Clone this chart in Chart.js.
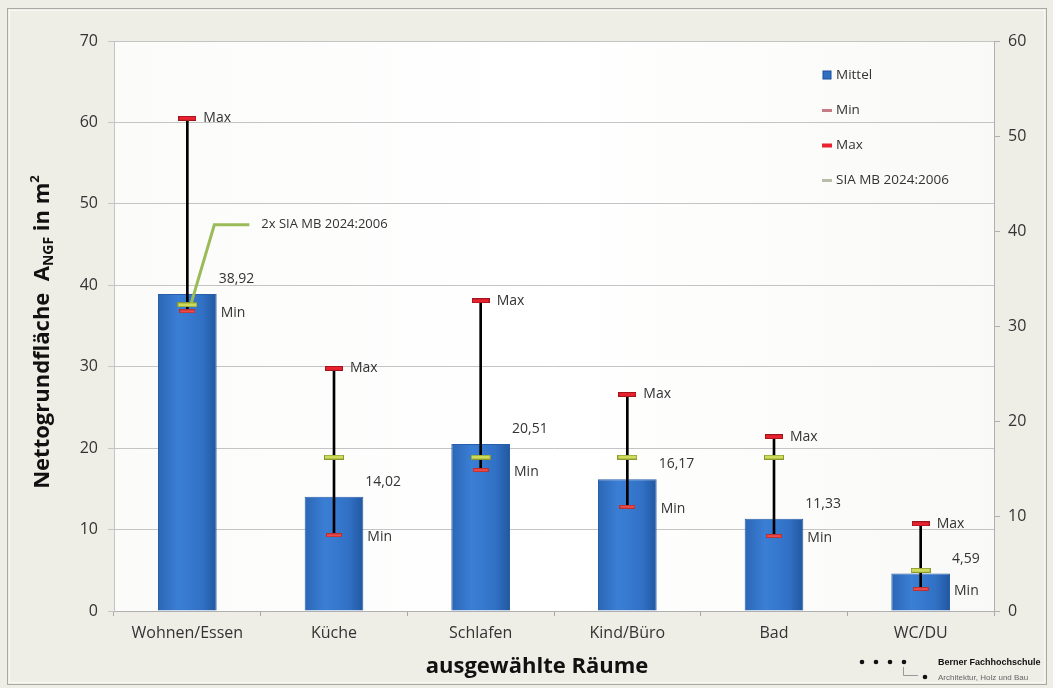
<!DOCTYPE html>
<html>
<head>
<meta charset="utf-8">
<script src="https://cdn.jsdelivr.net/npm/chart.js@4/dist/chart.umd.min.js"></script>
<style>
  body { margin: 0; background: #efeee6; }
  #wrap { width: 1053px; height: 688px; }
</style>
</head>
<body>
<div id="wrap"><canvas id="raeumeChart" width="1053" height="688"></canvas></div>
<script>
// Werte
const categories = ["Wohnen/Essen", "Küche", "Schlafen", "Kind/Büro", "Bad", "WC/DU"];
const mittel = [38.92, 14.02, 20.51, 16.17, 11.33, 4.59];
const minWerte = [36.8, 9.3, 17.3, 12.8, 9.2, 2.7];
const maxWerte = [60.5, 29.8, 38.1, 26.6, 21.4, 10.7];
const siaWerte = [37.6, 18.9, 18.9, 18.9, 18.9, 5.0];
const leftTicks = [0, 10, 20, 30, 40, 50, 60, 70];
const rightTicks = [0, 10, 20, 30, 40, 50, 60];

const FONT = "'Open Sans', 'Noto Sans', sans-serif";

function marker(w, h, fill, edge) {
  const c = document.createElement("canvas");
  c.width = w; c.height = h;
  const g = c.getContext("2d");
  g.fillStyle = edge;
  g.fillRect(0, 0, w, h);
  g.fillStyle = fill;
  g.fillRect(1, 1, w - 2, h - 2);
  return c;
}
const maxMarker = marker(18, 5, "#e8232f", "#a0141c");
const minMarker = marker(16, 4, "#ee4a4a", "#b83030");
const siaMarker = marker(20, 5, "#cfdc5a", "#8a9a30");

function barFill(ctx) {
  const chart = ctx.chart;
  if (!chart.chartArea || ctx.dataIndex === undefined) return "#2f72c6";
  const x = chart.scales.x;
  const cx = x.getPixelForValue(ctx.dataIndex);
  const half = (x.width / categories.length) * 0.4 / 2;
  const g = chart.ctx.createLinearGradient(cx - half, 0, cx + half, 0);
  g.addColorStop(0, "#2c66b6");
  g.addColorStop(0.35, "#3a7fd5");
  g.addColorStop(0.75, "#3171c6");
  g.addColorStop(1, "#22579f");
  return g;
}

const bgPlugin = {
  id: "bg",
  beforeDraw(chart) {
    const { ctx, chartArea: a } = chart;
    ctx.save();
    ctx.fillStyle = "#efeee6";
    ctx.fillRect(0, 0, chart.width, chart.height);
    ctx.strokeStyle = "#a9a9a4";
    ctx.lineWidth = 1;
    ctx.strokeRect(7.5, 8.5, 1039, 676);
    ctx.strokeStyle = "#f8f8f4";
    ctx.strokeRect(9.5, 10.5, 1035, 672);
    const g = ctx.createLinearGradient(a.left, 0, a.right, 0);
    g.addColorStop(0, "#fbfbfa");
    g.addColorStop(0.5, "#ffffff");
    g.addColorStop(1, "#f9f9f7");
    ctx.fillStyle = g;
    ctx.fillRect(a.left, a.top, a.right - a.left, a.bottom - a.top);
    ctx.strokeStyle = "#c9c9c4";
    ctx.strokeRect(a.left + 0.5, a.top + 0.5, a.right - a.left, a.bottom - a.top);
    ctx.restore();
  }
};

const labelPlugin = {
  id: "labels",
  afterDatasetsDraw(chart) {
    const ctx = chart.ctx;
    const barMeta = chart.getDatasetMeta(0);
    const maxMeta = chart.getDatasetMeta(2);
    const minMeta = chart.getDatasetMeta(3);
    const siaMeta = chart.getDatasetMeta(4);
    ctx.save();
    ctx.font = "14px " + FONT;
    ctx.fillStyle = "#333";
    ctx.textBaseline = "middle";
    ctx.textAlign = "left";
    barMeta.data.forEach((bar, i) => {
      const right = bar.x + bar.width / 2;
      ctx.fillText(mittel[i].toFixed(2).replace(".", ","), right + 2, bar.y - 15);
      ctx.fillText("Max", maxMeta.data[i].x + 16, maxMeta.data[i].y);
      ctx.fillText("Min", right + 4, minMeta.data[i].y + 2);
    });
    // Hinweis 2x SIA bei Wohnen/Essen
    const p = siaMeta.data[0];
    ctx.strokeStyle = "#9bbb59";
    ctx.lineWidth = 3;
    ctx.beginPath();
    ctx.moveTo(p.x + 4, p.y - 2);
    ctx.lineTo(p.x + 27, p.y - 80);
    ctx.lineTo(p.x + 62, p.y - 80);
    ctx.stroke();
    ctx.font = "13px " + FONT;
    ctx.fillText("2x SIA MB 2024:2006", p.x + 74, p.y - 81);
    ctx.restore();
  },
  afterDraw(chart) {
    const ctx = chart.ctx;
    const a = chart.chartArea;
    ctx.save();
    // Legende
    const items = [
      { text: "Mittel", draw: (x, y) => { ctx.fillStyle = "#2f6fc4"; ctx.fillRect(x - 4, y - 4, 8, 8); ctx.strokeStyle = "#1d4f98"; ctx.strokeRect(x - 4, y - 4, 8, 8); } },
      { text: "Min", draw: (x, y) => { ctx.fillStyle = "#c77b84"; ctx.fillRect(x - 5, y - 1, 10, 3); } },
      { text: "Max", draw: (x, y) => { ctx.fillStyle = "#e8232f"; ctx.fillRect(x - 5, y - 1.5, 10, 4); } },
      { text: "SIA MB 2024:2006", draw: (x, y) => { ctx.fillStyle = "#b9bca8"; ctx.fillRect(x - 5, y - 1, 10, 3); } }
    ];
    ctx.font = "13.5px " + FONT;
    ctx.textBaseline = "middle";
    ctx.textAlign = "left";
    items.forEach((it, i) => {
      const y = 75 + i * 35;
      it.draw(827, y);
      ctx.fillStyle = "#333";
      ctx.fillText(it.text, 836, y);
    });

    // Achsentitel
    ctx.fillStyle = "#111";
    ctx.font = "bold 22px " + FONT;
    ctx.textAlign = "center";
    ctx.textBaseline = "alphabetic";
    ctx.fillText("ausgewählte Räume", 537, 673);

    ctx.translate(49, 332);
    ctx.rotate(-Math.PI / 2);
    const parts = [
      { t: "Nettogrundfläche  A", f: "bold 22px " + FONT, dy: 0 },
      { t: "NGF", f: "bold 14px " + FONT, dy: 4 },
      { t: " in m", f: "bold 22px " + FONT, dy: 0 },
      { t: "2", f: "bold 13px " + FONT, dy: -10 }
    ];
    let total = 0;
    parts.forEach(pt => { ctx.font = pt.f; total += ctx.measureText(pt.t).width; });
    let x = -total / 2;
    ctx.textAlign = "left";
    parts.forEach(pt => { ctx.font = pt.f; ctx.fillText(pt.t, x, pt.dy); x += ctx.measureText(pt.t).width; });
    ctx.setTransform(1, 0, 0, 1, 0, 0);

    // Logo
    ctx.fillStyle = "#111";
    [862, 876, 890, 904].forEach(dx => { ctx.beginPath(); ctx.arc(dx, 662, 2.3, 0, Math.PI * 2); ctx.fill(); });
    ctx.beginPath(); ctx.arc(925, 677, 2.3, 0, Math.PI * 2); ctx.fill();
    ctx.strokeStyle = "#999"; ctx.lineWidth = 1;
    ctx.beginPath(); ctx.moveTo(903.5, 667); ctx.lineTo(903.5, 675.5); ctx.lineTo(918, 675.5); ctx.stroke();
    ctx.font = "bold 9px 'Liberation Sans', sans-serif";
    ctx.fillText("Berner Fachhochschule", 938, 665);
    ctx.fillStyle = "#666";
    ctx.font = "8px 'Liberation Sans', sans-serif";
    ctx.fillText("Architektur, Holz und Bau", 938, 680);
    ctx.restore();
  }
};

const ctx = document.getElementById("raeumeChart").getContext("2d");
const raeumeChart = new Chart(ctx, {
  data: {
    labels: categories,
    datasets: [
      {
        type: "bar", label: "Mittel", data: mittel, yAxisID: "y",
        backgroundColor: barFill, borderColor: "#2a5ea8", borderWidth: 1,
        barPercentage: 0.4, categoryPercentage: 1, grouped: false, order: 5
      },
      {
        type: "bar", label: "Spanne", data: categories.map((c, i) => [minWerte[i], maxWerte[i]]), yAxisID: "y",
        backgroundColor: "#000", barThickness: 2, grouped: false, order: 4
      },
      {
        type: "line", label: "Max", data: maxWerte, yAxisID: "y", showLine: false,
        pointStyle: maxMarker, order: 2
      },
      {
        type: "line", label: "Min", data: minWerte, yAxisID: "y", showLine: false,
        pointStyle: minMarker, order: 3
      },
      {
        type: "line", label: "SIA MB 2024:2006", data: siaWerte, yAxisID: "y", showLine: false,
        pointStyle: siaMarker, order: 1
      }
    ]
  },
  options: {
    responsive: false,
    animation: false,
    layout: { padding: { top: 41, left: 0, right: 0, bottom: 0 } },
    plugins: { legend: { display: false }, tooltip: { enabled: false } },
    scales: {
      x: {
        afterFit: s => { s.height = 77; },
        grid: { drawOnChartArea: false, tickLength: 5, color: "#a8a8a8" },
        border: { color: "#b0b0b0" },
        ticks: { font: { size: 16, family: FONT }, color: "#333", padding: 8 }
      },
      y: {
        position: "left", min: 0, max: 70,
        afterFit: s => { s.width = 114; },
        afterBuildTicks: s => { s.ticks = leftTicks.map(v => ({ value: v })); },
        grid: { color: "#c4c4c4", tickLength: 6 },
        border: { color: "#c4c4c4" },
        ticks: { font: { size: 16, family: FONT }, color: "#333", padding: 10 }
      },
      y2: {
        position: "right", min: 0, max: 60,
        afterFit: s => { s.width = 59; },
        afterBuildTicks: s => { s.ticks = rightTicks.map(v => ({ value: v })); },
        grid: { drawOnChartArea: false, tickLength: 6, color: "#b0b0b0" },
        border: { color: "#b0b0b0" },
        ticks: { font: { size: 16, family: FONT }, color: "#333", padding: 8 }
      }
    }
  },
  plugins: [bgPlugin, labelPlugin]
});
</script>
</body>
</html>
